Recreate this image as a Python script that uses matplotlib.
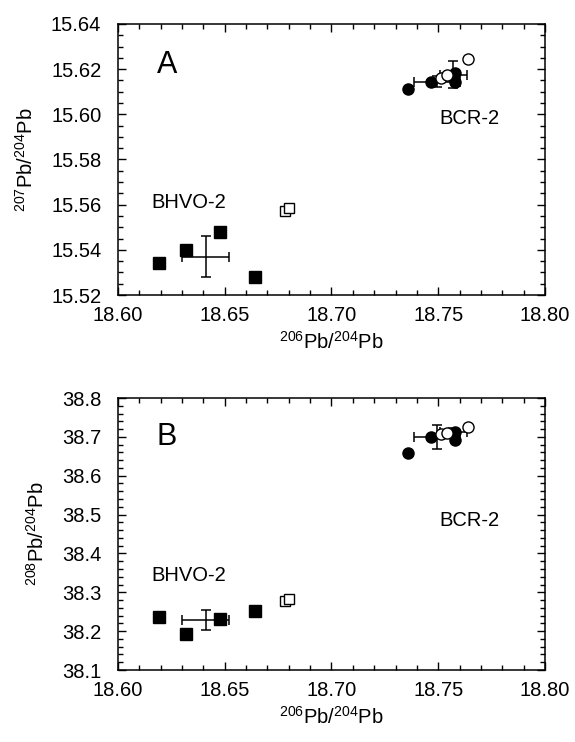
import numpy as np
import matplotlib.pyplot as plt
from matplotlib.ticker import MultipleLocator, FormatStrFormatter

plt.rcParams['font.family'] = ['Liberation Sans', 'DejaVu Sans']
plt.rcParams['mathtext.fontset'] = 'custom'
plt.rcParams['mathtext.rm'] = 'Liberation Sans'
plt.rcParams['mathtext.it'] = 'Liberation Sans'
plt.rcParams['font.size'] = 14.5

# ---- data ----
# BHVO-2 filled squares
bhvo_x = [18.619, 18.632, 18.648, 18.664]
bhvo_207 = [15.534, 15.540, 15.548, 15.528]
bhvo_208 = [38.237, 38.193, 38.231, 38.251]
# BHVO-2 open squares
bhvo_open_x = [18.678, 18.680]
bhvo_open_207 = [15.557, 15.5585]
bhvo_open_208 = [38.277, 38.282]
# BHVO-2 mean with error
bhvo_mean_x, bhvo_mean_xerr = 18.641, 0.011
bhvo_mean_207, bhvo_mean_207err = 15.537, 0.009
bhvo_mean_208, bhvo_mean_208err = 38.229, 0.026

# BCR-2 filled circles
bcr_x = [18.736, 18.7465, 18.758, 18.758]
bcr_207 = [15.611, 15.6145, 15.6185, 15.6145]
bcr_208 = [38.658, 38.699, 38.712, 38.692]
# BCR-2 open circles
bcr_open_x = [18.7515, 18.754, 18.764]
bcr_open_207 = [15.616, 15.6175, 15.6245]
bcr_open_208 = [38.707, 38.711, 38.725]
# BCR-2 means with error
bcr_mean_x = [18.7494, 18.757]
bcr_mean_xerr = [0.0108, 0.0063]
bcr_mean_207 = [15.6144, 15.6176]
bcr_mean_207err = [0.0025, 0.0059]
bcr_mean_208 = [38.700, 38.712]
bcr_mean_208err = [0.030, 0.012]


def style_axes(ax, ymin, ymax, ymajor, yminor, yfmt):
    """ limits, inward ticks on all four sides """
    ax.set_xlim(18.60, 18.80)
    ax.set_ylim(ymin, ymax)
    ax.xaxis.set_major_locator(MultipleLocator(0.05))
    ax.xaxis.set_minor_locator(MultipleLocator(0.01))
    ax.xaxis.set_major_formatter(FormatStrFormatter('%.2f'))
    ax.yaxis.set_major_locator(MultipleLocator(ymajor))
    ax.yaxis.set_minor_locator(MultipleLocator(yminor))
    ax.yaxis.set_major_formatter(FormatStrFormatter(yfmt))
    ax.tick_params(which='both', direction='in', top=True, right=True,
                   width=1.0)
    ax.tick_params(which='major', length=6)
    ax.tick_params(axis='x', which='major', pad=8)
    ax.tick_params(axis='y', which='major', pad=12)
    ax.tick_params(which='minor', length=3.5)
    for s in ax.spines.values():
        s.set_linewidth(1.1)


def draw_panel(ax, y_bhvo, y_bhvo_open, ym, yme, y_bcr, y_bcr_open,
               ybm, ybme):
    ax.plot(bhvo_open_x, y_bhvo_open, 's', mfc='white', mec='black',
            ms=7, mew=1.0, zorder=3)
    ax.plot(bhvo_x, y_bhvo, 's', color='black', ms=8.5, zorder=3)
    ax.errorbar(bhvo_mean_x, ym, xerr=bhvo_mean_xerr, yerr=yme,
                fmt='none', ecolor='black', elinewidth=1.1, capsize=3.5,
                capthick=1.1, zorder=2)
    ax.errorbar(bcr_mean_x, ybm, xerr=bcr_mean_xerr, yerr=ybme,
                fmt='none', ecolor='black', elinewidth=1.1, capsize=3.5,
                capthick=1.1, zorder=2)
    ax.plot(bcr_x, y_bcr, 'o', color='black', ms=8, zorder=3)
    ax.plot(bcr_open_x, y_bcr_open, 'o', mfc='white', mec='black',
            ms=8, mew=1.0, zorder=4)


fig = plt.figure(figsize=(5.75, 7.42), dpi=100)
ax1 = fig.add_axes([0.2052, 0.6024, 0.7426, 0.3653])
ax2 = fig.add_axes([0.2052, 0.0970, 0.7426, 0.3666])

# panel A
draw_panel(ax1, bhvo_207, bhvo_open_207, bhvo_mean_207, bhvo_mean_207err,
           bcr_207, bcr_open_207, bcr_mean_207, bcr_mean_207err)
style_axes(ax1, 15.52, 15.64, 0.02, 0.005, '%.2f')
ax1.set_xlabel(r'$^{206}$Pb/$^{204}$Pb', labelpad=4)
ax1.set_ylabel(r'$^{207}$Pb/$^{204}$Pb', labelpad=10)
ax1.text(0.115, 0.85, 'A', transform=ax1.transAxes, fontsize=22,
         ha='center', va='center')
ax1.text(0.824, 0.653, 'BCR-2', transform=ax1.transAxes, ha='center',
         va='center')
ax1.text(0.166, 0.341, 'BHVO-2', transform=ax1.transAxes, ha='center',
         va='center')

# panel B
draw_panel(ax2, bhvo_208, bhvo_open_208, bhvo_mean_208, bhvo_mean_208err,
           bcr_208, bcr_open_208, bcr_mean_208, bcr_mean_208err)
style_axes(ax2, 38.1, 38.8, 0.1, 0.02, '%.1f')
ax2.set_xlabel(r'$^{206}$Pb/$^{204}$Pb', labelpad=4)
ax2.set_ylabel(r'$^{208}$Pb/$^{204}$Pb', labelpad=10)
ax2.text(0.115, 0.855, 'B', transform=ax2.transAxes, fontsize=22,
         ha='center', va='center')
ax2.text(0.824, 0.55, 'BCR-2', transform=ax2.transAxes, ha='center',
         va='center')
ax2.text(0.166, 0.347, 'BHVO-2', transform=ax2.transAxes, ha='center',
         va='center')

plt.savefig('out.png', dpi=100)
